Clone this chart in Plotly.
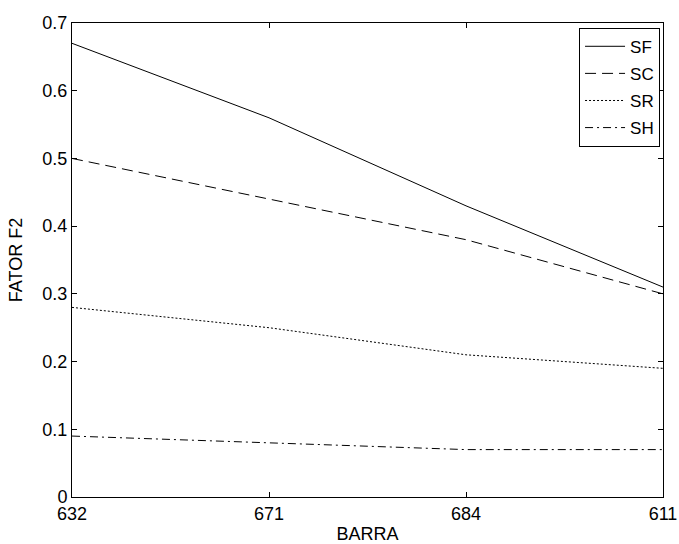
import plotly.graph_objects as go

barras = ["632", "671", "684", "611"]
sf = [0.67, 0.56, 0.43, 0.31]
sc = [0.50, 0.44, 0.38, 0.30]
sr = [0.28, 0.25, 0.21, 0.19]
sh = [0.09, 0.08, 0.07, 0.07]

series = [("SF", sf, "solid"), ("SC", sc, "11px,6px"), ("SR", sr, "2px,2px"), ("SH", sh, "8px,4px,2px,4px")]

fig = go.Figure()
xs = list(range(len(barras)))
for name, vals, dash in series:
    fig.add_trace(go.Scatter(x=xs, y=vals, mode="lines", name=name, legendgroup=name,
                             line=dict(color="black", width=1, dash=dash)))

fam = "Liberation Sans, Arial, sans-serif"
font = dict(family=fam, size=18, color="black")
title_font = dict(family=fam, size=18, color="black")
fig.update_layout(
    width=679, height=544,
    margin=dict(l=72, r=16, t=23, b=47),
    paper_bgcolor="white", plot_bgcolor="white",
    font=font,
    showlegend=True,
    legend=dict(x=0.995, y=0.99, xanchor="right", yanchor="top",
                bordercolor="black", borderwidth=1, bgcolor="white",
                font=dict(family=fam, size=17, color="black"),
                tracegroupgap=2, itemwidth=40),
)
fig.update_xaxes(range=[0, 3], tickmode="array", tickvals=xs, ticktext=barras,
                 tickfont=dict(family=fam, size=18, color="black"),
                 showgrid=False, zeroline=False, showline=True, linecolor="black", linewidth=1,
                 mirror="ticks", ticks="inside", ticklen=5, tickcolor="black", automargin=False,
                 title=dict(text="BARRA", standoff=5, font=title_font))
fig.update_yaxes(range=[0, 0.7], tickmode="array",
                 tickvals=[0, 0.1, 0.2, 0.3, 0.4, 0.5, 0.6, 0.7],
                 ticktext=["0", "0.1", "0.2", "0.3", "0.4", "0.5", "0.6", "0.7"],
                 tickfont=dict(family=fam, size=18, color="black"),
                 showgrid=False, zeroline=False, showline=True, linecolor="black", linewidth=1,
                 mirror="ticks", ticks="inside", ticklen=5, tickcolor="black", automargin=False,
                 title=dict(text="FATOR F2", standoff=15, font=title_font))
fig.write_html("out.html", config={"displayModeBar": False},
               post_script="document.body.style.margin='0';document.body.style.overflow='hidden';")
